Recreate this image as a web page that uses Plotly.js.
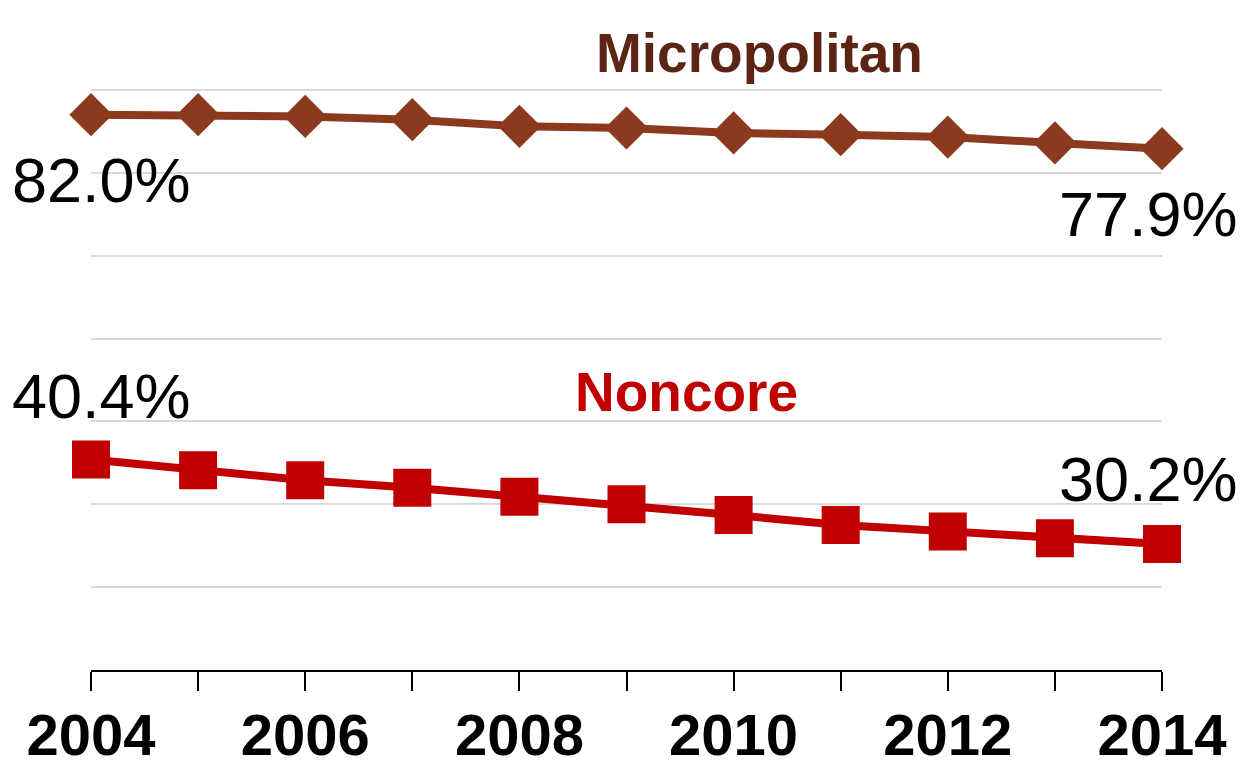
<!DOCTYPE html>
<html>
<head>
<meta charset="utf-8">
<script src="https://cdn.plot.ly/plotly-3.0.1.min.js"></script>
<style>html,body{margin:0;padding:0;background:#fff;}#chart{width:1241px;height:770px;}</style>
</head>
<body>
<div id="chart"></div>
<script>
const years = [2004, 2005, 2006, 2007, 2008, 2009, 2010, 2011, 2012, 2013, 2014];
const tickLabels = ['2004', '', '2006', '', '2008', '', '2010', '', '2012', '', '2014'];
const micropolitan = [82.0, 82.0, 81.8, 81.4, 80.6, 80.4, 79.8, 79.6, 79.3, 78.6, 77.9];
const noncore = [40.4, 39.1, 37.9, 37.0, 35.9, 35.0, 33.7, 32.5, 31.7, 30.9, 30.2];
const seriesNames = ['Micropolitan', 'Noncore'];

const FONT = '"Liberation Sans", Arial, sans-serif';
const brown = '#8B3A1E';
const brownText = '#5C2414';
const red = '#C00000';

const last = years.length - 1;
const fmt = v => v.toFixed(1) + '%';

const traces = [
  {
    x: years, y: micropolitan, name: seriesNames[0], type: 'scatter', mode: 'lines+markers',
    line: {color: brown, width: 8},
    marker: {symbol: 'diamond', size: 30, color: brown, line: {color: brown, width: 3}},
    cliponaxis: false, hoverinfo: 'skip'
  },
  {
    x: years, y: noncore, name: seriesNames[1], type: 'scatter', mode: 'lines+markers',
    line: {color: red, width: 8},
    marker: {symbol: 'square', size: 36, color: red, line: {color: red, width: 2}},
    cliponaxis: false, hoverinfo: 'skip'
  }
];

const valueFont = {family: FONT, size: 63, color: '#000000'};
const annotations = [
  {x: years[0], y: micropolitan[0], text: fmt(micropolitan[0]), showarrow: false, xanchor: 'left', yanchor: 'middle', xshift: -81, yshift: -65, font: valueFont},
  {x: years[last], y: micropolitan[last], text: fmt(micropolitan[last]), showarrow: false, xanchor: 'right', yanchor: 'middle', xshift: 78, yshift: -65, font: valueFont},
  {x: years[0], y: noncore[0], text: fmt(noncore[0]), showarrow: false, xanchor: 'left', yanchor: 'middle', xshift: -81, yshift: 64, font: valueFont},
  {x: years[last], y: noncore[last], text: fmt(noncore[last]), showarrow: false, xanchor: 'right', yanchor: 'middle', xshift: 78, yshift: 65, font: valueFont},
  {x: 2010.24, y: 89.5, text: '<b>' + seriesNames[0] + '</b>', showarrow: false, xanchor: 'center', yanchor: 'middle', font: {family: FONT, size: 55, color: brownText}},
  {x: 2009.56, y: 48.6, text: '<b>' + seriesNames[1] + '</b>', showarrow: false, xanchor: 'center', yanchor: 'middle', font: {family: FONT, size: 55, color: red}}
];

const layout = {
  width: 1241, height: 770,
  margin: {l: 91, r: 79, t: 7, b: 100, pad: 0},
  paper_bgcolor: '#ffffff', plot_bgcolor: '#ffffff',
  showlegend: false,
  font: {family: FONT},
  xaxis: {
    range: [years[0], years[last]],
    tickvals: years, ticktext: tickLabels,
    ticks: 'outside', ticklen: 19, tickwidth: 2, tickcolor: '#000000',
    ticklabelstandoff: -6,
    showline: true, linecolor: '#000000', linewidth: 2,
    showgrid: false, zeroline: false,
    tickfont: {family: FONT, size: 58, color: '#000000', weight: 'bold'},
    fixedrange: true
  },
  yaxis: {
    range: [15, 95], tick0: 15, dtick: 10,
    showticklabels: false, ticks: '',
    showgrid: true, gridcolor: '#D9D9D9', gridwidth: 2,
    zeroline: false, showline: false, fixedrange: true
  },
  annotations: annotations
};

Plotly.newPlot('chart', traces, layout, {displayModeBar: false, staticPlot: true});
</script>
</body>
</html>
